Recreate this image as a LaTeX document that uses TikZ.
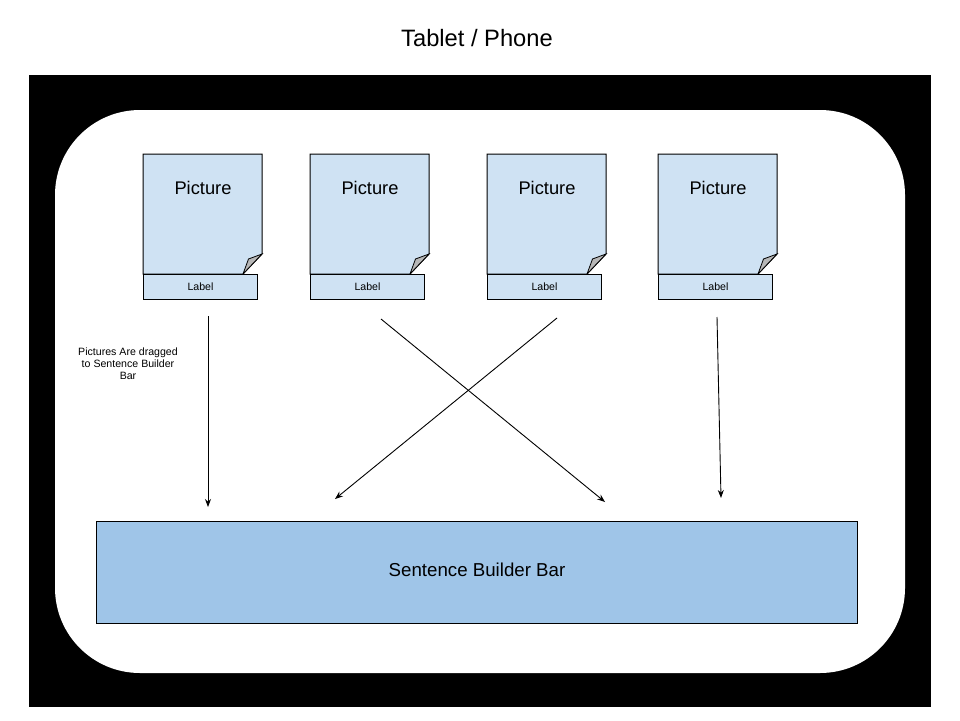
\documentclass[tikz,border=0pt]{standalone}
\usepackage{fontspec}
\setmainfont{Liberation Sans}
\usetikzlibrary{arrows.meta}
\definecolor{pagefill}{HTML}{CFE2F3}
\definecolor{barfill}{HTML}{9FC5E8}
\definecolor{foldfill}{HTML}{B7B7B7}
\begin{document}
\begin{tikzpicture}[x=1pt,y=-1pt,
  pagebox/.style={fill=pagefill,draw=black,line width=1pt,line join=miter},
  foldbox/.style={fill=foldfill,draw=black,line width=0.8pt},
  labelbox/.style={fill=pagefill,draw=black,line width=1pt,minimum width=114pt,minimum height=25pt,inner sep=0pt,font=\fontsize{10.6}{12}\selectfont},
  pictext/.style={inner sep=0pt,font=\fontsize{18.3}{22}\selectfont},
  barbox/.style={fill=barfill,draw=black,line width=1pt,minimum width=761pt,minimum height=102pt,inner sep=0pt,text height=13.4pt,text depth=6pt,font=\fontsize{18.7}{22}\selectfont},
  arrowline/.style={draw=black,line width=0.9pt,-{Stealth[length=8pt,width=6pt]}},
  note/.style={align=center,inner sep=0pt,font=\fontsize{10.6}{12}\selectfont}]
\useasboundingbox (0,0) rectangle (960,720);
\fill[white] (0,0) rectangle (960,720);
% device frame
\fill[black] (29,75) rectangle (931,707);
\fill[white,rounded corners=85pt] (55,110) rectangle (905,673);
% title
\node[inner sep=0pt,font=\fontsize{23.7}{28}\selectfont] (title) at (477,38) {Tablet / Phone};
% pictures
\foreach \i/\x in {1/143,2/310,3/487,4/658}{
  \draw[pagebox] (\x,154) -- ++(119,0) -- ++(0,100) -- ++(-19,20) -- (\x,274) -- cycle;
  \draw[foldbox] (\x+119,254) -- (\x+105.5,259) -- (\x+100,274) -- cycle;
  \node[pictext] (pic\i) at (\x+60,188) {Picture};
  \node[labelbox,anchor=north west] (lab\i) at (\x,274) {Label};
}
% sentence builder bar
\node[barbox,anchor=north west] (bar) at (96,521) {Sentence Builder Bar};
% note
\node[note] (note) at (128,364) {Pictures Are dragged\\to Sentence Builder\\Bar};
% arrow endpoints
\coordinate (s1) at (208,316);
\coordinate (e1) at (208,507);
\coordinate (s2) at (381,319);
\coordinate (e2) at (605,502);
\coordinate (s3) at (557,318);
\coordinate (e3) at (335,499);
\coordinate (s4) at (717,317);
\coordinate (e4) at (721,498);
\draw[arrowline] (s1) -- (e1);
\draw[arrowline] (s2) -- (e2);
\draw[arrowline] (s3) -- (e3);
\draw[arrowline] (s4) -- (e4);
\end{tikzpicture}
\end{document}
